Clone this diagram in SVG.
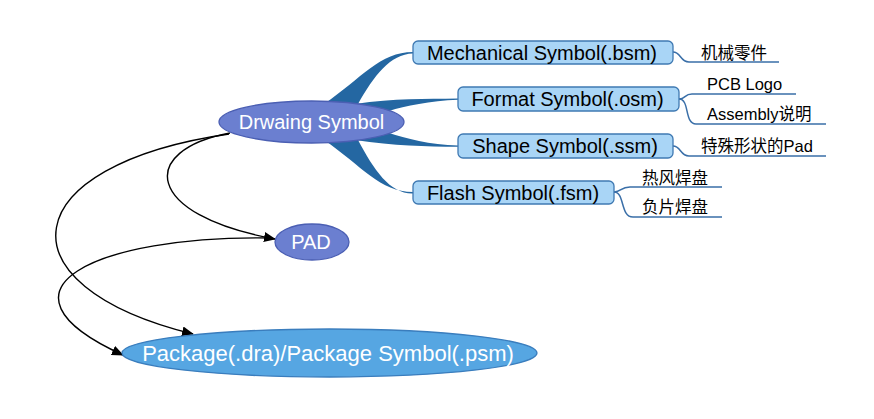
<svg xmlns="http://www.w3.org/2000/svg" width="874" height="419" viewBox="0 0 874 419">
<style>
text{font-family:"Liberation Sans","Noto Sans CJK SC",sans-serif}
.box{fill:#a9d5f6;stroke:#3f79b2;stroke-width:1.3}
.bt{font-size:20px;fill:#000;text-anchor:middle}
.lt{font-size:16.5px;fill:#000}
.leaf{fill:none;stroke:#3a6fa8;stroke-width:1.5}
.br{fill:#2467a2}
.conn{fill:none;stroke:#000;stroke-width:1.4}
.wt{fill:#fff;text-anchor:middle}
</style>
<defs>
<marker id="ah" markerWidth="12" markerHeight="10" refX="11" refY="5" orient="auto" markerUnits="userSpaceOnUse">
<path d="M0,0 L12,5 L0,10 Z" fill="#000"/>
</marker>
</defs>
<g id="branches">
<path class="br" d="M324 104 C362 78 380 52 413 52 L413 53.5 C390 54 374 76 358 104 Z"/>
<path class="br" d="M355 104 C395 98 425 99 458 98.5 L458 99.8 C430 101 405 106 389 111 Z"/>
<path class="br" d="M389 133 C405 138 430 145 458 145.5 L458 146.8 C425 146.5 395 146 355 140 Z"/>
<path class="br" d="M324 140 C362 166 380 192 413 192 L413 193.5 C390 194 374 170 358 140 Z"/>
</g>
<g id="leaf-lines">
<path class="leaf" d="M673 52 C681 52 680 62 689 62 L779 62"/>
<path class="leaf" d="M679 99 C686 99 684 94 692 94 L796 94"/>
<path class="leaf" d="M679 99 C690 99 684 124 696 124 L826 124"/>
<path class="leaf" d="M673 146 C681 146 680 156 689 156 L826 156"/>
<path class="leaf" d="M614 192 C622 192 620 187 630 187 L722 187"/>
<path class="leaf" d="M614 192 C625 192 620 217 633 217 L722 217"/>
</g>
<g id="connectors">
<path class="conn" d="M230 133 C138 150 143 215 275 239" marker-end="url(#ah)"/>
<path class="conn" d="M229 134 C15 165 -5 285 193 334" marker-end="url(#ah)"/>
<path class="conn" d="M272 238 C95 235 -20 290 123 355" marker-end="url(#ah)"/>
</g>
<g id="drawing-symbol">
<ellipse cx="311.5" cy="122" rx="92.5" ry="21" fill="#6b7fd0" stroke="#4b5fb3" stroke-width="1.3"/>
<text class="wt" x="311.5" y="129" font-size="20">Drwaing Symbol</text>
</g>
<g id="pad">
<ellipse cx="312" cy="242" rx="37" ry="18" fill="#6b7fd0" stroke="#4b5fb3" stroke-width="1.3"/>
<text class="wt" x="311" y="249" font-size="20">PAD</text>
</g>
<g id="package">
<ellipse cx="329.5" cy="353" rx="207.5" ry="24" fill="#56a6e2" stroke="#3a7dbd" stroke-width="1.3"/>
<text class="wt" x="328" y="361" font-size="22">Package(.dra)/Package Symbol(.psm)</text>
</g>
<g id="mechanical">
<rect class="box" x="413" y="41" width="260" height="23" rx="5"/>
<text class="bt" x="542" y="59.5">Mechanical Symbol(.bsm)</text>
</g>
<g id="format">
<rect class="box" x="458" y="87" width="221" height="24" rx="5"/>
<text class="bt" x="567.5" y="106">Format Symbol(.osm)</text>
</g>
<g id="shape">
<rect class="box" x="458" y="134" width="215" height="24" rx="5"/>
<text class="bt" x="565" y="153">Shape Symbol(.ssm)</text>
</g>
<g id="flash">
<rect class="box" x="413" y="181" width="201" height="23" rx="5"/>
<text class="bt" x="513" y="199.5">Flash Symbol(.fsm)</text>
</g>
<g id="leaf-jixie"><text class="lt" x="701" y="59">机械零件</text></g>
<g id="leaf-pcblogo"><text class="lt" x="707" y="90">PCB Logo</text></g>
<g id="leaf-assembly"><text class="lt" x="707" y="120">Assembly说明</text></g>
<g id="leaf-pad"><text class="lt" x="701" y="152">特殊形状的Pad</text></g>
<g id="leaf-refeng"><text class="lt" x="642" y="184">热风焊盘</text></g>
<g id="leaf-fupian"><text class="lt" x="642" y="213">负片焊盘</text></g>
</svg>
